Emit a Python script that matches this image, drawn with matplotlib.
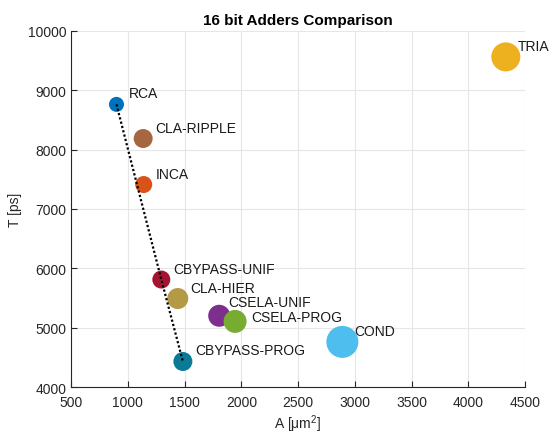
import numpy as np
import matplotlib
matplotlib.use('Agg')
import matplotlib.pyplot as plt

plt.rcParams['font.family'] = ['Liberation Sans', 'DejaVu Sans']

# Adder architectures: area [um^2], delay [ps], bubble size, colour
names = ['RCA', 'CLA-RIPPLE', 'INCA', 'CBYPASS-UNIF', 'CLA-HIER',
         'CSELA-UNIF', 'CSELA-PROG', 'CBYPASS-PROG', 'COND', 'TRIA']
area = [900, 1135, 1140, 1295, 1440, 1805, 1945, 1485, 2890, 4330]
delay = [8760, 8185, 7410, 5810, 5490, 5200, 5105, 4430, 4760, 9560]
bubble = [117, 187, 150, 168, 229, 251, 274, 187, 531, 436]
colors = ['#0072BD', '#A5673F', '#D95319', '#A2142F', '#B59A45',
          '#7E2F8E', '#77AC30', '#0A7A96', '#4DBEEE', '#EDB120']

# pareto front
pareto = ['RCA', 'CBYPASS-UNIF', 'CBYPASS-PROG']

fig, ax = plt.subplots(figsize=(5.51, 4.35), dpi=100)
fig.subplots_adjust(left=0.129, right=0.953, bottom=0.108, top=0.927)

ax.scatter(area, delay, s=bubble, c=colors, edgecolors='none', zorder=3)

idx = [names.index(n) for n in pareto]
ax.plot([area[i] for i in idx], [delay[i] for i in idx], color='black',
        linestyle=(0, (1, 1)), linewidth=1.6, zorder=4)

# label offsets in pixels
offs = {'CSELA-UNIF': (9, 14), 'CSELA-PROG': (16, 4)}
for i, n in enumerate(names):
    dx, dy = offs.get(n, (12, 11))
    ax.annotate(n, (area[i], delay[i]), xytext=(dx * 0.72, dy * 0.72),
                textcoords='offset points', ha='left', va='center',
                fontsize=10, color='#1a1a1a', zorder=5)

ax.set_xlim(500, 4500)
ax.set_ylim(4000, 10000)
ax.set_xticks(np.arange(500, 4501, 500))
ax.set_yticks(np.arange(4000, 10001, 1000))
ax.grid(True, color='#e6e6e6', linewidth=0.8, zorder=0)
ax.set_axisbelow(True)
for s in ['top', 'right']:
    ax.spines[s].set_visible(False)
for s in ['left', 'bottom']:
    ax.spines[s].set_color('#262626')
    ax.spines[s].set_linewidth(0.8)
ax.tick_params(direction='in', length=4, colors='#262626', labelsize=10,
               width=0.8)
ax.tick_params(axis='x', pad=6)

ax.set_title('16 bit Adders Comparison', fontsize=11, fontweight='bold',
             color='#000000', pad=5)
ax.set_xlabel(r'A [$\mathregular{\mu m^2}$]', fontsize=10, color='#262626',
              labelpad=2)
ax.set_ylabel('T [ps]', fontsize=10, color='#262626', labelpad=4)

fig.savefig('out.png', dpi=100, facecolor='white')
